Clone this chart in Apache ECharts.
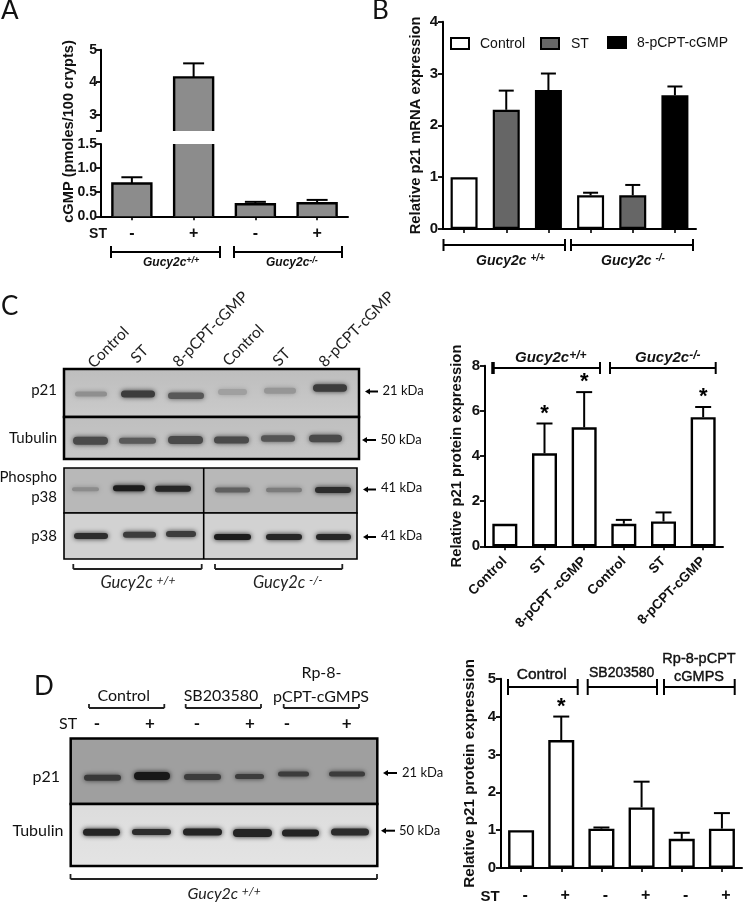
<!DOCTYPE html>
<html><head><meta charset="utf-8">
<style>html,body{margin:0;padding:0;background:#fff}#c{width:745px;height:904px}</style>
<script src="https://cdn.jsdelivr.net/npm/echarts@6/dist/echarts.min.js"></script>
</head><body><div id="c"></div>
<script>
// ---------- data ----------
const catA = ['-','+','-','+'];
const valA = [0.68,4.15,0.25,0.27];
const topA = [0.81,4.58,0.30,0.34];
const catB = ['a','b','c','d','e','f'];
const valB = [1,2.3,2.68,0.65,0.65,2.58];
const topB = [null,2.67,3.0,0.7,0.85,2.75];
const catC = ['Control','ST','8-pCPT -cGMP','Control','ST','8-pCPT-cGMP'];
const valC = [1,4.12,5.27,1,1.1,5.72];
const topC = [null,5.44,6.83,1.17,1.5,6.17];
const starC = [0,1,1,0,0,1];
const catD = ['-','+','-','+','-','+'];
const valD = [1,3.38,1.04,1.6,0.77,1.04];
const topD = [null,4.0,1.07,2.28,0.93,1.45];
const starD = [0,1,0,0,0,0];
const colorsB = ['#ffffff','#666666','#000000','#ffffff','#666666','#000000'];
// ---------- helpers ----------
const AR = '"Liberation Sans",Arial,sans-serif', LA = 'Lato,"Open Sans",sans-serif';
const g = [];
const line = (x1,y1,x2,y2,w=2,c='#000') => g.push({type:'line',silent:true,z:5,shape:{x1,y1,x2,y2},style:{stroke:c,lineWidth:w}});
const rect = (x,y,w,h,fill,stroke,lw=2,z=2) => g.push({type:'rect',silent:true,z,shape:{x,y,width:w,height:h},style:{fill,stroke:stroke||null,lineWidth:lw}});
const txt = (x,y,text,font,opt={}) => g.push({type:'text',silent:true,z:6,x,y,rotation:opt.rot||0,
  style:{text,font,fill:opt.fill||'#111',align:opt.align||'left',verticalAlign:opt.va||'middle',rich:opt.rich,stroke:opt.stroke?(opt.fill||'#111'):null,lineWidth:opt.stroke||0}});
const band = (x1,x2,cy,h,c) => g.push({type:'rect',silent:true,z:3,shape:{x:x1+1,y:cy-(h+1)/2,width:x2-x1-2,height:h+1,r:(h+1)/2},style:{fill:c,shadowBlur:5,shadowColor:c}});
const bracket = (x1,x2,y,h,w=2) => {line(x1,y,x2,y,w);line(x1,y-h,x1,y+h,w);line(x2,y-h,x2,y+h,w);};
const under = (x1,x2,y,h) => {line(x1,y,x2,y,1.8,'#222');line(x1,y-h,x1,y,1.8,'#222');line(x2,y-h,x2,y,1.8,'#222');};
const arrow = (x1,x2,y) => {line(x1+3,y,x2,y,2);g.push({type:'polygon',silent:true,z:5,shape:{points:[[x1,y],[x1+5,y-3],[x1+5,y+3]]},style:{fill:'#000'}});};
const sup = (x,y,a,b,font,supFont,col,align) => txt(x,y,`{a|${a}}{b|${b}}`,font,{align,rich:{a:{font,fill:col},b:{font:supFont,fill:col,verticalAlign:'top',padding:[0,0,5,0]}}});

// ---------- panel letters ----------
txt(1,11,'A','26px '+LA,{fill:'#111'});
txt(372,11,'B','26px '+LA);
txt(1,307,'C','26px '+LA);
txt(34,687,'D','26px '+LA);

// ---------- panel A extras ----------
txt(69,131.5,'cGMP (pmoles/100 crypts)','bold 14.6px '+AR,{rot:Math.PI/2,align:'center'});
txt(98,234,'ST','bold 14px '+AR,{align:'center'});
bracket(111,220,252,6);bracket(234,342,252,6);
sup(143,263,'Gucy2c','+/+','italic bold 12px '+AR,'italic bold 9px '+AR,'#111');
sup(266,263,'Gucy2c','-/-','italic bold 12px '+AR,'italic bold 9px '+AR,'#111');

// ---------- panel B extras ----------
[[451,38,18,11,'#fff'],[541,38,18,11,'#666'],[608,37,18,11,'#000']].forEach(a=>rect(a[0],a[1],a[2],a[3],a[4],'#000',2,5));
txt(480,44,'Control','14px '+AR);txt(571,44,'ST','14px '+AR);txt(637,43,'8-pCPT-cGMP','14px '+AR);
bracket(443.5,565,245,6);bracket(571,693,245,6);
sup(476,261,'Gucy2c ','+/+','italic bold 14px '+AR,'italic bold 10px '+AR,'#111');
sup(601,261,'Gucy2c ','-/-','italic bold 14px '+AR,'italic bold 10px '+AR,'#111');

// ---------- panel C blots ----------
const grad = (a,b) => ({type:'linear',x:0,y:0,x2:0,y2:1,colorStops:[{offset:0,color:a},{offset:1,color:b}]});
rect(64,369,295,48,grad('#bdbdbd','#cbcbcb'),'#000',2.5);
rect(64,417,295,42,grad('#bfbfbf','#c6c6c6'),'#000',2.5);
rect(64,468,293,45,'#b8b8b8','#000',1.6);
rect(64,513,293,46,'#d2d2d2','#000',1.6);
line(203.7,468,203.7,559,1.6);
[[74,108,394,4,'#8f8f8f'],[120,156,394,6,'#3c3c3c'],[167,205,395.7,5.5,'#585858'],[217,248,392,5,'#a0a0a0'],[263,297,390.7,5,'#969696'],[312,348,388,6.5,'#3c3c3c'],
 [72,109,440.7,7,'#4a4a4a'],[118,157,440.7,5,'#5a5a5a'],[167,204,440,7,'#4a4a4a'],[213,250,440,6,'#4a4a4a'],[260,296,438.5,5.5,'#555'],[308,343,438.5,6.5,'#4a4a4a'],
 [71,100,489.3,3,'#8c8c8c'],[112,146,488.3,5,'#1c1c1c'],[154,192,488.7,5,'#262626'],[214,251,490,4,'#606060'],[265,303,490,3.5,'#7c7c7c'],[314,352,490,5,'#2c2c2c'],
 [73,109,536,5,'#2c2c2c'],[122,157,534.7,5,'#3c3c3c'],[165,197,534,5,'#3c3c3c'],[213,252,537,5,'#1c1c1c'],[265,303,537,5,'#262626'],[315,352,537,5,'#262626']
].forEach(b=>band(...b));
const BL='15px '+LA, KD='13px '+LA;
txt(57,390.5,'p21',BL,{align:'right'});txt(57,438,'Tubulin',BL,{align:'right'});
txt(57,477.5,'Phospho',BL,{align:'right'});txt(57,497.5,'p38',BL,{align:'right'});txt(57,536.5,'p38',BL,{align:'right'});
const R45=Math.PI/4;
[[96,371,'Control'],[139,366,'ST'],[181,370,'8-pCPT-cGMP'],[231,369,'Control'],[281,369,'ST'],[327,370,'8-pCPT-cGMP']].forEach(a=>txt(a[0],a[1],a[2],'15.5px '+LA,{rot:R45,va:'bottom',fill:'#222'}));
arrow(365,378,391.5);txt(382.5,391,'21 kDa',KD);
arrow(362,376,440);txt(380.5,439.5,'50 kDa',KD);
arrow(363,376,489.5);txt(381,487.5,'41 kDa',KD);
arrow(363,376,537);txt(381,535.5,'41 kDa',KD);
under(73.3,201.7,569,5);under(215,342.3,569,5);
sup(100.5,583,'Gucy2c ','+/+','italic 16.5px '+LA,'italic 12px '+LA,'#222');
sup(253,583,'Gucy2c ','-/-','italic 16.5px '+LA,'italic 12px '+LA,'#222');

// ---------- panel C chart extras ----------
bracket(493,600,368,6,2);line(493,362,493,374,3.5);bracket(610,715.7,368,6,2);
sup(515,358,'Gucy2c','+/+','italic bold 15px '+AR,'italic bold 12px '+AR,'#111');
sup(635,358,'Gucy2c','-/-','italic bold 15px '+AR,'italic bold 12px '+AR,'#111');

// ---------- panel D blots ----------
rect(70.7,738.5,306.6,65.5,'#9f9f9f','#000',2.5);
rect(70.7,804,306.6,62,grad('#dcdcdc','#e4e4e4'),'#000',2.5);
[[83,122,777.7,5,'#383838'],[133,171,776,7,'#181818'],[183,222,777,5,'#3c3c3c'],[234,265,776.5,4,'#3c3c3c'],[277,310,774,4,'#3c3c3c'],[328,366,774,4,'#3c3c3c'],
 [82,121,832.3,6,'#242424'],[131,172,832,5,'#2c2c2c'],[182,223,832,6,'#242424'],[232,273,833,7,'#242424'],[281,320,833,6,'#242424'],[330,370,832,6,'#2c2c2c']
].forEach(b=>band(...b));
txt(123.7,696,'Control','16px '+LA,{align:'center'});
txt(221,695.5,'SB203580','16px '+LA,{align:'center'});
txt(321.5,673,'Rp-8-','16px '+LA,{align:'center'});
txt(321,696.5,'pCPT-cGMPS','16px '+LA,{align:'center'});
[[89,164.3],[185.7,261],[283.7,359]].forEach(a=>under(a[0],a[1],708,4));
txt(59,724,'ST','16px '+LA);
[[97,'-'],[150,'+'],[197,'-'],[250,'+'],[287,'-'],[346.7,'+']].forEach(a=>txt(a[0],723.5,a[1],'bold 17px '+LA,{align:'center'}));
txt(60,777,'p21','16px '+LA,{align:'right'});txt(63.5,831,'Tubulin','16px '+LA,{align:'right'});
arrow(383,397,773);txt(402,773,'21 kDa',KD);
arrow(381,395,830.7);txt(399,830.7,'50 kDa',KD);
under(70.5,377,879,5);
sup(187.5,894,'Gucy2c ','+/+','italic 16px '+LA,'italic 12px '+LA,'#222');

// ---------- panel D chart extras ----------
bracket(508,577.7,687,8);bracket(587.7,657,687,8);bracket(664,734.7,687,8);
const DT=(s)=>s+'px '+AR, OP={align:'center',stroke:0.4};
txt(541.7,675,'Control',DT(15.5),OP);txt(621.7,673,'SB203580',DT(14),OP);
txt(699,659,'Rp-8-pCPT',DT(14.5),OP);txt(699,677,'cGMPS',DT(14.5),OP);
txt(490,897,'ST','bold 15px '+AR,{align:'center'});

// ---------- axes ----------
function grid(left,top,width,height){return {left,top,width,height};}
const axLine={show:true,onZero:false,lineStyle:{color:'#000',width:2}};
const tick={show:true,alignWithLabel:true,length:4,lineStyle:{color:'#000',width:1.6}};
function xA(i,data,extra={}){return Object.assign({type:'category',gridIndex:i,data,axisLine:axLine,axisTick:tick,splitLine:{show:false},
  axisLabel:{show:false}},extra);}
const yLab=(s,m)=>({color:'#111',fontFamily:AR,fontWeight:'bold',fontSize:s,margin:m});
function yA(i,min,max,interval,extra={}){return Object.assign({type:'value',gridIndex:i,min,max,interval,axisLine:axLine,axisTick:{show:true,length:5,lineStyle:{color:'#000',width:1.8}},
  splitLine:{show:false},axisLabel:yLab(15,5)},extra);}
const nameStyle=(s)=>({color:'#111',fontFamily:AR,fontWeight:'bold',fontSize:s});

// ---------- series ----------
function barS(i,data,w,color,bw){return {type:'bar',xAxisIndex:i,yAxisIndex:i,data,barWidth:w,silent:true,
  itemStyle:{color,borderColor:'#000',borderWidth:bw},z:3};}
function errS(i,vals,tops,capW,stars,outline,starFont){
  return {type:'custom',xAxisIndex:i,yAxisIndex:i,silent:true,z:4,
    data:vals.map((v,k)=>[k,v,tops[k]==null?NaN:tops[k],stars?stars[k]:0]),
    renderItem(params,api){
      const cs=params.coordSys,bot=cs.y+cs.height,k=api.value(0),v=api.value(1),t=api.value(2),s=api.value(3);
      const vp=api.coord([k,v]),x=vp[0],kids=[];
      const st={stroke:'#000',lineWidth:2.4,fill:null};
      const clamped=vp[1]<cs.y, hidden=vp[1]>=bot;
      if(hidden) return {type:'group',children:[]};
      if(outline){
        const yt=clamped?cs.y:vp[1],h=outline/2;
        kids.push({type:'polyline',shape:{points:clamped?[[x-h,yt],[x-h,bot]]:[[x-h,bot],[x-h,yt],[x+h,yt],[x+h,bot]]},style:st});
        if(clamped)kids.push({type:'line',shape:{x1:x+h,y1:yt,x2:x+h,y2:bot},style:st});
      }
      if(!isNaN(t)&&!clamped){
        const tp=api.coord([k,t])[1];
        kids.push({type:'line',shape:{x1:x,y1:vp[1],x2:x,y2:tp},style:{stroke:'#000',lineWidth:2}});
        kids.push({type:'line',shape:{x1:x-capW/2,y1:tp,x2:x+capW/2,y2:tp},style:{stroke:'#000',lineWidth:2}});
        if(s)kids.push({type:'text',x,y:tp+1,style:{text:'*',font:starFont||('bold 22px '+AR),fill:'#000',align:'center',verticalAlign:'bottom'}});
      }
      return {type:'group',children:kids};
    }};
}

const option={
  animation:false,backgroundColor:'#fff',
  grid:[grid(101,144,247,72.3),grid(101,49.7,247,81.3),grid(443,21.7,253,207.3),grid(485,365.7,238,180.6),grid(501,678.7,241,190)],
  xAxis:[
    xA(0,catA,{axisLabel:{show:true,color:'#111',fontFamily:AR,fontWeight:'bold',fontSize:16,margin:9}}),
    xA(1,catA,{show:false}),
    xA(2,catB),
    xA(3,catC,{axisLabel:{show:true,interval:0,rotate:45,color:'#111',fontFamily:AR,fontWeight:'bold',fontSize:13.5,margin:13}}),
    xA(4,catD,{axisLabel:{show:true,interval:0,color:'#111',fontFamily:AR,fontWeight:'bold',fontSize:16,margin:20,padding:[0,0,0,8]}})
  ],
  yAxis:[
    yA(0,0,1.5,0.5,{axisLabel:Object.assign(yLab(14,4),{formatter:v=>v.toFixed(1)})}),
    yA(1,2.5,5,0.5,{axisTick:{show:true,length:5,lineStyle:{color:'#000',width:1.8},customValues:[2.5,3,4,5]},
      axisLabel:Object.assign(yLab(14,4),{customValues:[3,4,5]})}),
    yA(2,0,4,1,{name:'Relative p21 mRNA expression',nameLocation:'middle',nameGap:20,nameTextStyle:nameStyle(14.8)}),
    yA(3,0,8,2,{name:'Relative p21 protein expression',nameLocation:'middle',nameGap:21,nameTextStyle:nameStyle(14.8)}),
    yA(4,0,5,1,{name:'Relative p21 protein expression',nameLocation:'middle',nameGap:24,nameTextStyle:nameStyle(15.2)})
  ],
  series:[
    barS(0,valA,39,'#8c8c8c',0),errS(0,valA,topA,21,null,39),
    barS(1,valA.map(v=>v>2.5?v:null),39,'#8c8c8c',0),errS(1,valA.map(v=>v>2.5?v:0),topA,21,null,39),
    {type:'bar',xAxisIndex:2,yAxisIndex:2,silent:true,barWidth:27,z:3,
      data:valB.map((v,i)=>({value:v,itemStyle:{color:colorsB[i],borderColor:'#000',borderWidth:2.2}}))},
    errS(2,valB,topB,15),
    barS(3,valC,25,'#fff',2.4),errS(3,valC,topC,16,starC),
    barS(4,valD,26,'#fff',2.4),errS(4,valD,topD,16,starD)
  ],
  graphic:{elements:g}
};
const chart=echarts.init(document.getElementById('c'),null,{renderer:'canvas'});
chart.setOption(option);
</script></body></html>
